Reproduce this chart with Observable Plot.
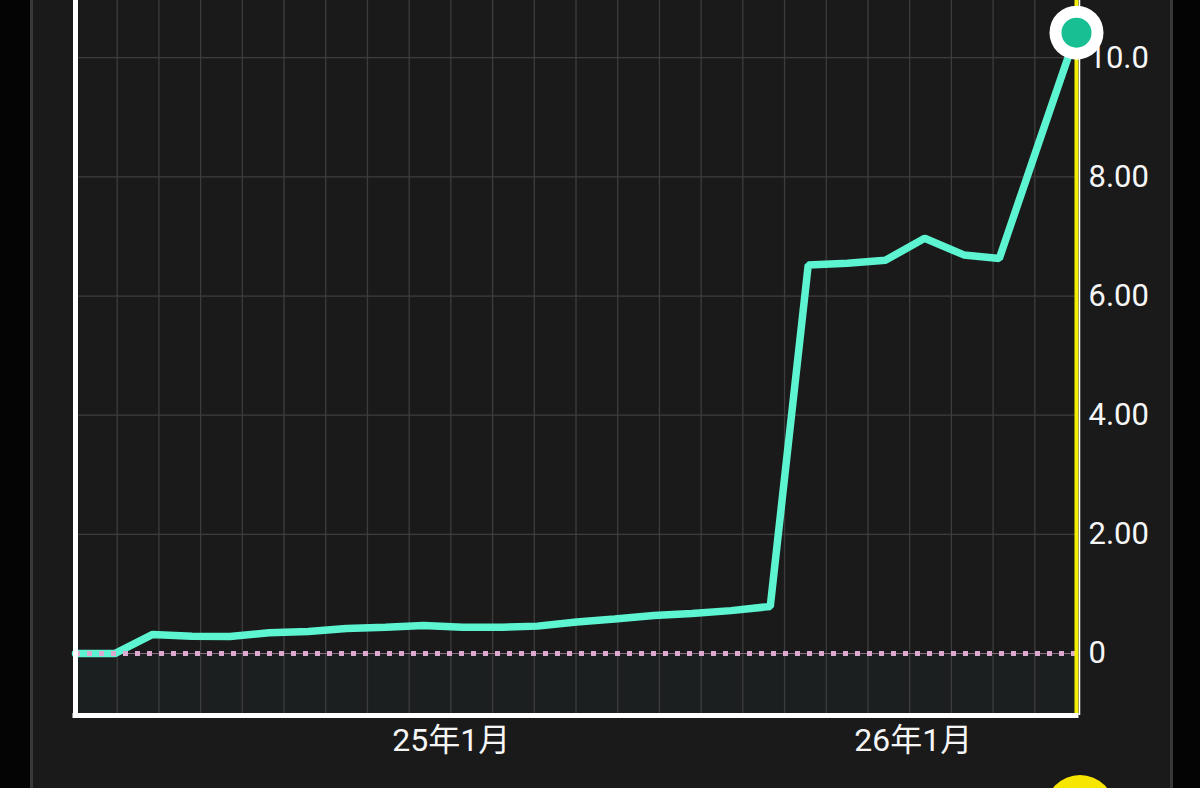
<!DOCTYPE html>
<html><head><meta charset="utf-8">
<script src="https://cdn.jsdelivr.net/npm/d3@7"></script>
<script src="https://cdn.jsdelivr.net/npm/@observablehq/plot@0.6"></script>
<style>
html,body{margin:0;padding:0;background:#040404;width:1200px;height:788px;overflow:hidden;}
#panel{position:absolute;left:30px;top:0;width:1137px;height:788px;background:#1a1a1a;border-left:3px solid #383838;border-right:3px solid #383838;}
#chart{position:absolute;left:0;top:0;}
#badge{position:absolute;left:1045px;top:775px;width:70px;height:70px;border-radius:50%;background:#f7e600;}
</style></head><body>
<div id="panel"></div>
<div id="chart"></div>
<div id="badge"></div>
<script>
// monthly observations
const dates = [
  "2024-03-10","2024-04-10","2024-05-10","2024-06-10","2024-07-10","2024-08-10","2024-09-10",
  "2024-10-10","2024-11-10","2024-12-10","2025-01-10","2025-02-10","2025-03-10","2025-04-10",
  "2025-05-10","2025-06-10","2025-07-10","2025-08-10","2025-09-10","2025-10-10","2025-11-10",
  "2025-12-10","2026-01-10","2026-02-10","2026-03-10","2026-04-10","2026-05-10"
];
const values = [
  0, 0, 0.32, 0.29, 0.285, 0.35, 0.37,
  0.42, 0.44, 0.47, 0.44, 0.44, 0.46, 0.53,
  0.58, 0.64, 0.67, 0.72, 0.79, 6.52, 6.55,
  6.60, 6.97, 6.69, 6.63, 8.56, 10.42
];
const yTicks = [0, 2, 4, 6, 8, 10];
const xTicks = ["2025-01-01", "2026-01-01"];
const yDomain = [-1.04, 10.96];

const data = dates.map((d, i) => ({date: new Date(d), value: values[i]}));
const x0 = data[0].date, x1 = data[data.length - 1].date;
const last = [data[data.length - 1]];
const gridX = d3.range(1, 24).map(i => new Date(+x0 + (x1 - x0) * i / 24));

const chart = Plot.plot({
  width: 1200, height: 788,
  marginLeft: 75, marginRight: 124, marginTop: 0, marginBottom: 73,
  style: {background: "transparent", fontFamily: "Roboto, 'Noto Sans CJK JP', sans-serif", color: "#f6f6f6", overflow: "visible"},
  x: {type: "utc", domain: [x0, x1]},
  y: {domain: yDomain},
  marks: [
    Plot.rect([0], {x1: () => x0, x2: () => x1, y1: () => yDomain[0], y2: () => 0, fill: "#1c1f1f"}),
    Plot.ruleX(gridX, {stroke: "#3d3d3d", strokeWidth: 1.3}),
    Plot.ruleY(yTicks.slice(1), {stroke: "#3e3e3e", strokeWidth: 1.3}),
    Plot.ruleY([0], {stroke: "#8a6c82", strokeWidth: 1}),
    Plot.line(data, {x: "date", y: "value", stroke: "#5cf4d1", strokeWidth: 7.5, strokeLinejoin: "miter"}),
    Plot.ruleY([0], {stroke: "#dcaad0", strokeWidth: 5, strokeDasharray: "5,7"}),
    Plot.ruleX([x1], {stroke: "#f3ef00", strokeWidth: 4}),
    Plot.ruleX([x1], {stroke: "#ffffff", strokeWidth: 1.5, dx: 3}),
    Plot.ruleX([x0], {stroke: "#ffffff", strokeWidth: 5, strokeLinecap: "square"}),
    Plot.ruleY([yDomain[0]], {stroke: "#ffffff", strokeWidth: 5, strokeLinecap: "square"}),
    Plot.axisY({ticks: yTicks, anchor: "right", tickSize: 0, tickPadding: 12, fontSize: 31, fill: "#f6f6f6", label: null,
      tickFormat: d => d === 0 ? "0" : (d >= 10 ? d.toFixed(1) : d.toFixed(2))}),
    Plot.axisX({ticks: xTicks.map(d => new Date(d)), tickSize: 0, tickPadding: 13, fontSize: 32, fill: "#f6f6f6", label: null,
      tickFormat: d => `${String(d.getUTCFullYear()).slice(2)}年${d.getUTCMonth() + 1}月`}),
    Plot.dot(last, {x: "date", y: "value", r: 27, fill: "#ffffff"}),
    Plot.dot(last, {x: "date", y: "value", r: 15, fill: "#17bf92"})
  ]
});
document.getElementById("chart").appendChild(chart);
</script>
</body></html>
